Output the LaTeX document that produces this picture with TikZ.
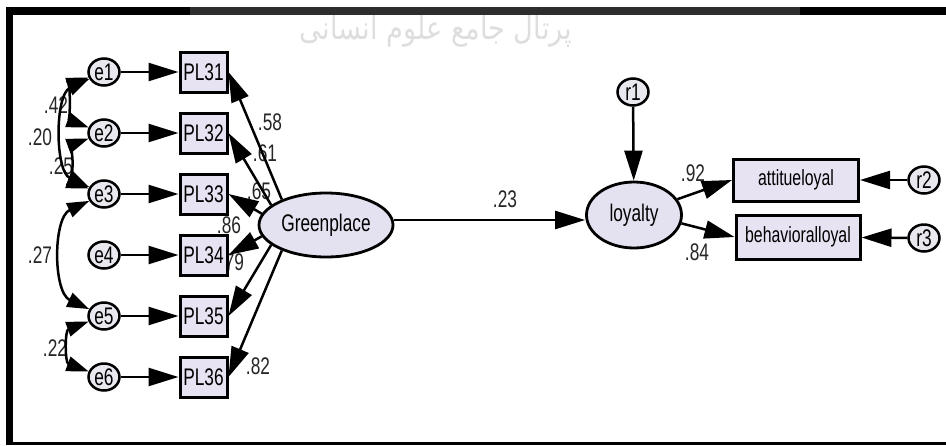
\documentclass[tikz,border=0pt]{standalone}
\usepackage{fontspec}
\setmainfont{Liberation Sans}[FakeStretch=0.72]
\newfontfamily\arabicfont[Script=Arabic]{DejaVu Sans}
\TeXXeTstate=1
\usetikzlibrary{shapes.geometric,arrows.meta}
\definecolor{boxfill}{RGB}{232,227,242}
\definecolor{latfill}{RGB}{228,225,240}
\definecolor{errfill}{RGB}{232,232,238}
\definecolor{topgray}{RGB}{45,45,45}
\tikzset{
  obs/.style={draw, line width=3pt, fill=boxfill, minimum width=47, minimum height=40, inner sep=0},
  err/.style={ellipse, draw, line width=2.5pt, fill=errfill, minimum width=31, minimum height=27, inner sep=0},
  lat/.style={ellipse, draw, line width=2.8pt, fill=latfill, inner sep=0},
  arr/.style={line width=2.5pt, -{Triangle[length=30pt,width=18pt]}},
  cov/.style={line width=2.5pt, {Triangle[length=22pt,width=15pt]}-{Triangle[length=22pt,width=15pt]}},
  lab/.style={inner sep=0, text=black!85},
}
\begin{document}
\begin{tikzpicture}[x=1pt,y=1pt,font=\fontsize{24}{28}\selectfont]
\useasboundingbox (0,0) rectangle (946,-445);
\fill[white] (0,0) rectangle (946,-445);
% watermark
\node[text=black!13, inner sep=0, xscale=0.85] (wm) at (436,-31) {\arabicfont\fontsize{32}{32}\selectfont\beginR پرتال جامع علوم انسانی\endR};
% frame
\fill[black] (6,-7) rectangle (946,-15);
\fill[topgray] (190,-7) rectangle (800,-15);
\fill[black] (6,-7) rectangle (13,-445);
\fill[black] (6,-442) rectangle (946,-445);
% labels
\node[lab] (l42) at (56,-105) {.42};
\node[lab] (l20) at (40,-137) {.20};
\node[lab] (l25) at (61,-166) {.25};
\node[lab] (l27) at (40,-255) {.27};
\node[lab] (l22) at (55,-348) {.22};
\node[lab] (l58) at (270,-122) {.58};
\node[lab] (l61) at (265,-153) {.61};
\node[lab] (l65) at (259,-191) {.65};
\node[lab] (l86) at (229,-225) {.86};
\node[lab] (l79) at (232,-262) {.79};
\node[lab] (l82) at (258,-366) {.82};
\node[lab] (l23) at (505,-199) {.23};
\node[lab] (l92) at (693,-173) {.92};
\node[lab] (l84) at (697,-252) {.84};
% error terms
\node[err] (e1) at (104,-72) {e1};
\node[err] (e2) at (104,-133) {e2};
\node[err] (e3) at (104,-194) {e3};
\node[err] (e4) at (104,-255) {e4};
\node[err] (e5) at (104,-316) {e5};
\node[err] (e6) at (104,-377) {e6};
% indicators
\node[obs] (p1) at (203.5,-72) {PL31};
\node[obs] (p2) at (203.5,-133) {PL32};
\node[obs] (p3) at (203.5,-194) {PL33};
\node[obs] (p4) at (203.5,-255) {PL34};
\node[obs] (p5) at (203.5,-316) {PL35};
\node[obs] (p6) at (203.5,-377) {PL36};
% latents
\node[lat, minimum width=134, minimum height=64] (G) at (326,-225) {Greenplace};
\node[lat, minimum width=95, minimum height=66] (L) at (634,-215) {loyalty};
\node[err] (r1) at (633,-92) {r1};
\node[obs, minimum width=125, minimum height=42, font=\fontsize{22}{26}\selectfont] (A) at (796,-180) {attitueloyal};
\node[obs, minimum width=124, minimum height=44, font=\fontsize{22}{26}\selectfont] (B) at (798,-237) {behavioralloyal};
\node[err] (r2) at (924,-180) {r2};
\node[err] (r3) at (924,-238) {r3};
\coordinate (h) at (0,-220);
% arrows
\foreach \i in {1,...,6} {\draw[arr] (e\i) -- (p\i);}
\draw[arr] (G.150) -- (p1.east);
\draw[arr] (G.160) -- (p2.east);
\draw[arr] (G.170) -- (p3.east);
\draw[arr] (G.190) -- (p4.east);
\draw[arr] (G.200) -- (p5.east);
\draw[arr] (G.210) -- (p6.east);
\draw[arr] (G.east |- h) -- (L.west |- h);
\draw[arr] (r1) -- (L);
\draw[arr] (L.20) -- (A.west);
\draw[arr] (L.-10) -- (B.west);
\draw[arr] (r2) -- (A);
\draw[arr] (r3) -- (B);
% covariances
\draw[cov] (e1) to[out=205,in=155,looseness=0.9] (e3);
\draw[cov] (e1) to[out=200,in=160,looseness=1] (e2);
\draw[cov] (e2) to[out=200,in=160,looseness=0.8] (e3);
\draw[cov] (e3) to[out=205,in=155,looseness=0.95] (e5);
\draw[cov] (e5) to[out=200,in=160,looseness=1.3] (e6);
\end{tikzpicture}
\end{document}
